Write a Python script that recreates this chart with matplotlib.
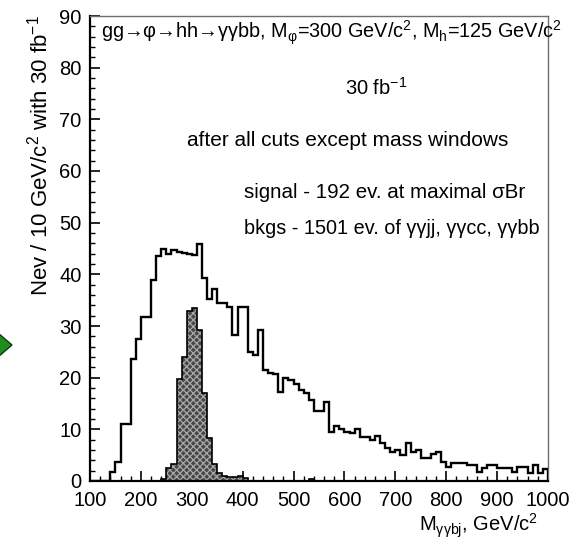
import numpy as np
import matplotlib
matplotlib.use("Agg")
import matplotlib.pyplot as plt
from matplotlib.patches import Polygon

plt.rcParams['font.family'] = ['Liberation Sans', 'DejaVu Sans']
plt.rcParams['mathtext.fontset'] = 'custom'
plt.rcParams['mathtext.rm'] = 'Liberation Sans'
plt.rcParams['mathtext.it'] = 'Liberation Sans:italic'
plt.rcParams['mathtext.default'] = 'regular'
plt.rcParams['hatch.linewidth'] = 0.9

# 10 GeV bins from 100 to 1000 GeV/c^2
bin_lo = 100
bin_hi = 1000
bin_w = 10

# background (gamma gamma jj, gamma gamma cc, gamma gamma bb), events per bin
bkg = [
    0.0, 0.0, 0.0, 0.0, 1.8, 3.7, 11.0, 11.0, 23.7, 27.4,          # 100-200
    31.8, 31.8, 38.9, 43.5, 45.0, 43.9, 44.8, 44.4, 44.2, 43.9,    # 200-300
    43.7, 45.8, 39.2, 35.3, 37.1, 34.4, 34.4, 33.7, 28.2, 33.6,    # 300-400
    33.6, 25.0, 24.4, 29.3, 21.5, 21.0, 20.8, 17.3, 19.9, 19.6,    # 400-500
    18.8, 17.7, 17.0, 15.7, 13.5, 13.5, 15.3, 9.5, 10.6, 10.0,     # 500-600
    9.5, 9.2, 10.0, 8.6, 8.6, 7.9, 8.7, 7.3, 6.3, 5.7,             # 600-700
    6.0, 5.0, 7.4, 5.7, 6.0, 4.4, 4.4, 5.3, 5.7, 3.7,              # 700-800
    2.8, 3.4, 3.4, 3.5, 3.1, 3.1, 1.8, 2.45, 3.1, 3.1,             # 800-900
    2.45, 2.45, 2.45, 1.8, 2.8, 2.8, 1.5, 3.1, 1.5, 2.3,           # 900-1000
]

# signal gg -> phi -> hh -> gamma gamma bb, events per bin
sig = [
    0.0, 0.0, 0.0, 0.0, 0.0, 0.0, 0.0, 0.0, 0.0, 0.0,              # 100-200
    0.0, 0.0, 0.0, 0.0, 0.3, 2.6, 3.2, 19.8, 24.0, 32.9,           # 200-300
    33.4, 29.2, 17.0, 8.4, 3.2, 1.5, 0.9, 0.8, 0.7, 0.9,           # 300-400
    0.5, 0.0, 0.0, 0.0, 0.0, 0.0, 0.0, 0.0, 0.0, 0.0,              # 400-500
    0.0, 0.0, 0.0, 0.4, 0.0, 0.0, 0.0, 0.0, 0.0, 0.0,              # 500-600
    0.0, 0.0, 0.0, 0.0, 0.0, 0.0, 0.0, 0.0, 0.0, 0.0,              # 600-700
    0.0, 0.0, 0.0, 0.0, 0.0, 0.0, 0.0, 0.0, 0.0, 0.0,              # 700-800
    0.0, 0.0, 0.0, 0.0, 0.0, 0.0, 0.0, 0.0, 0.0, 0.0,              # 800-900
    0.0, 0.0, 0.0, 0.0, 0.0, 0.0, 0.0, 0.0, 0.0, 0.0,              # 900-1000
]

xticks = [100, 200, 300, 400, 500, 600, 700, 800, 900, 1000]
yticks = [0, 10, 20, 30, 40, 50, 60, 70, 80, 90]

title_line = r"gg→φ→hh→γγbb, M$_{φ}$=300 GeV/c$^{2}$, M$_{h}$=125 GeV/c$^{2}$"
lumi_line = r"30 fb$^{-1}$"
cuts_line = "after all cuts except mass windows"
sig_line = "signal - 192 ev. at maximal σBr"
bkg_line = "bkgs - 1501 ev. of γγjj, γγcc, γγbb"
xlabel = r"M$_{γγbj}$, GeV/c$^{2}$"
ylabel = r"Nev / 10 GeV/c$^{2}$ with 30 fb$^{-1}$"

W, H = 585, 545
fig = plt.figure(figsize=(W / 100, H / 100), dpi=100)


def fx(px):
    return px / W


def fy(py):
    return 1 - py / H


ax_l, ax_r, ax_t, ax_b = 90, 548, 16, 481
ax = fig.add_axes([fx(ax_l), fy(ax_b), (ax_r - ax_l) / W, (ax_b - ax_t) / H])

edges = np.arange(bin_lo, bin_hi + bin_w, bin_w)

# signal: dark grey with light cross-hatch, black outline
ax.stairs(sig, edges, fill=True, facecolor='#474747', edgecolor='#a8a8a8',
          hatch='xxxxx', linewidth=0, zorder=2)
ax.stairs(sig, edges, color='black', linewidth=1.2, zorder=3)

# background outline
ax.stairs(bkg, edges, color='black', linewidth=1.7, zorder=4)

ax.set_xlim(bin_lo, bin_hi)
ax.set_ylim(0, 90)
ax.set_xticks(xticks)
ax.set_yticks(yticks)
ax.set_xticks(np.arange(100, 1001, 20), minor=True)
ax.set_yticks(np.arange(0, 91, 2), minor=True)
ax.tick_params(axis='both', which='both', direction='in', top=False, right=False,
               labelsize=14.5, colors='black')
ax.tick_params(axis='both', which='major', length=7, width=1.2)
ax.tick_params(axis='both', which='minor', length=3.5, width=1.0)
ax.tick_params(axis='x', pad=7)
ax.tick_params(axis='y', pad=6)

for side in ('left', 'bottom'):
    ax.spines[side].set_linewidth(1.6)
    ax.spines[side].set_color('black')
for side in ('top', 'right'):
    ax.spines[side].set_linewidth(1.0)
    ax.spines[side].set_color('#6e6e6e')

txt = dict(transform=fig.transFigure, color='black', clip_on=False)
fig.text(fx(101), fy(33), title_line, fontsize=14.3, ha='left', va='center', zorder=5, **txt)
fig.text(fx(345), fy(88), lumi_line, fontsize=14.5, ha='left', va='center', **txt)
fig.text(fx(187), fy(140), cuts_line, fontsize=15, ha='left', va='center', **txt)
fig.text(fx(244), fy(192), sig_line, fontsize=14.8, ha='left', va='center', **txt)
fig.text(fx(244), fy(228), bkg_line, fontsize=14.3, ha='left', va='center', **txt)

fig.text(fx(538), fy(526), xlabel, fontsize=14.5, ha='right', va='center', **txt)
fig.text(fx(40), fy(15), ylabel, fontsize=16, ha='center', va='top', rotation=90, **txt)

# green pointer on the left margin
tri = Polygon([(fx(-2), fy(333)), (fx(12), fy(345)), (fx(-2), fy(357))],
              closed=True, transform=fig.transFigure, facecolor='#1e8c1e',
              edgecolor='#0d3d0d', linewidth=1.0)
fig.add_artist(tri)

fig.savefig("out.png", dpi=100, facecolor='white')
